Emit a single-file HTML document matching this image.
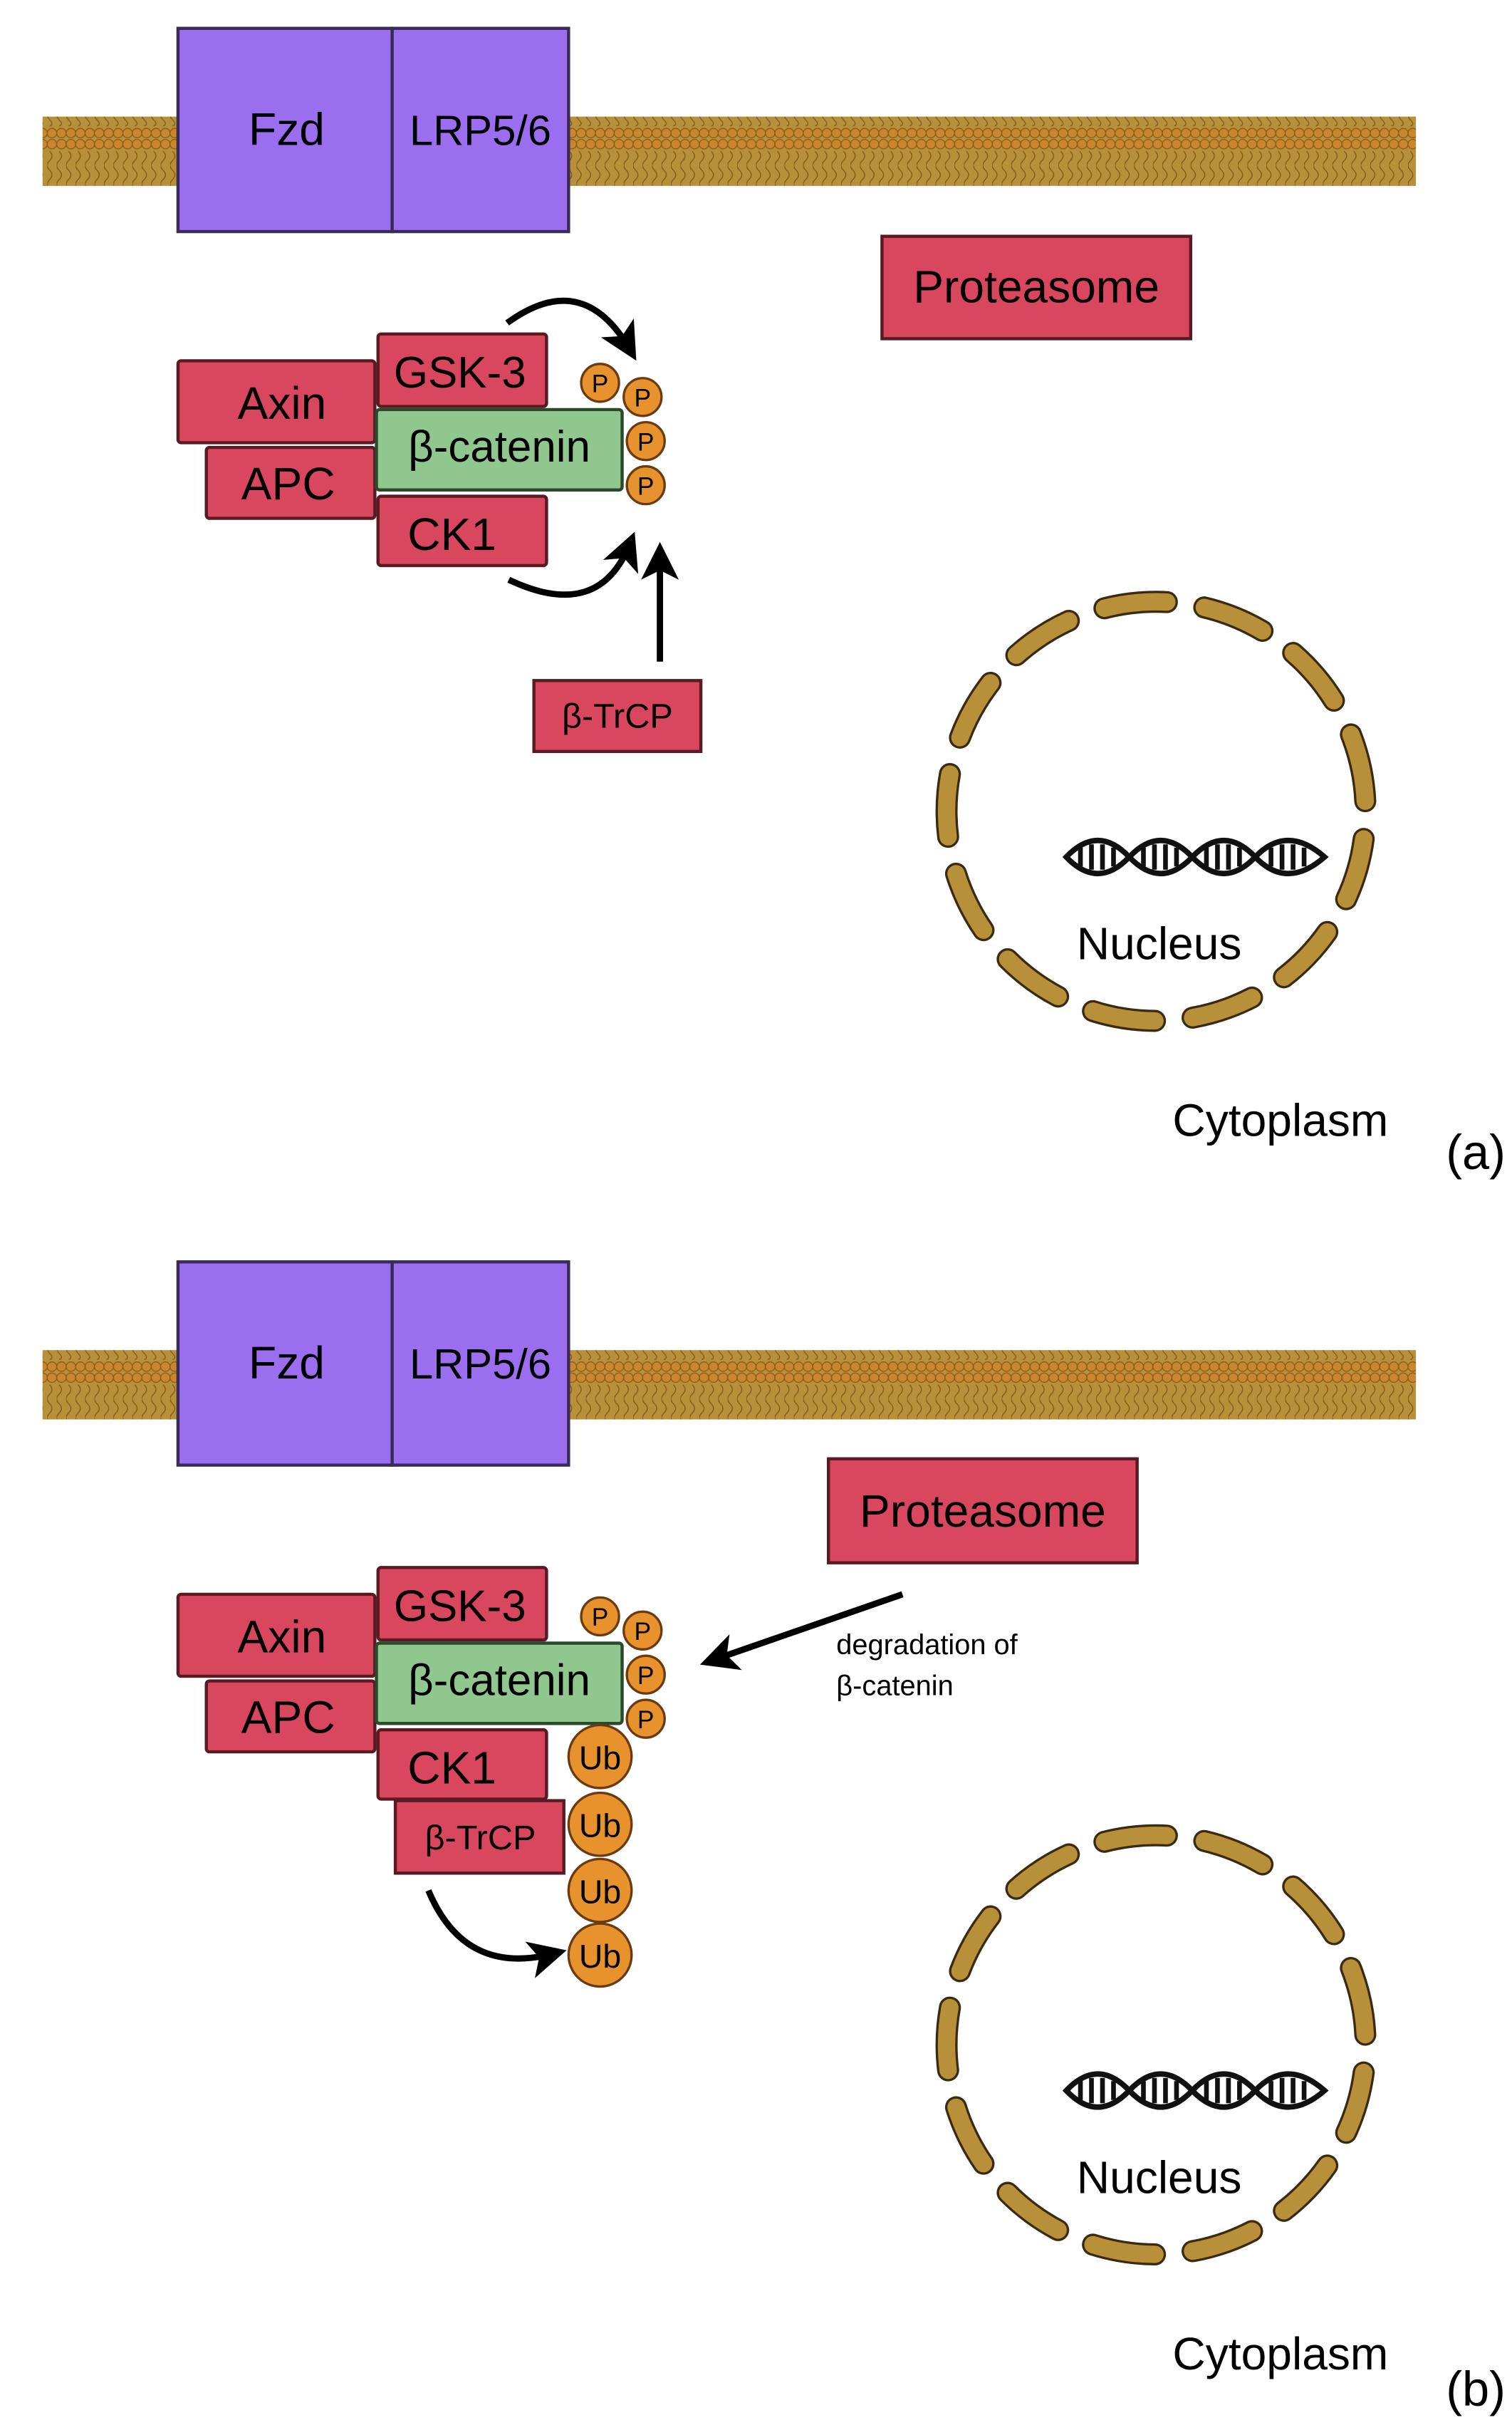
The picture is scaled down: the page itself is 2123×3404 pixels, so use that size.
<!DOCTYPE html>
<html><head><style>
html,body{margin:0;padding:0;background:#fff;}
svg{display:block;}
text{font-family:"Liberation Sans",sans-serif;}
</style></head><body>
<svg width="2123" height="3404" viewBox="0 0 960 1539.3" xmlns="http://www.w3.org/2000/svg">
<defs>
<pattern id="mem" x="0" y="0" width="6" height="44" patternUnits="userSpaceOnUse">
<rect width="6" height="44" fill="#b8903a"/>
<circle cx="3" cy="3.5" r="3" fill="#c8862e" stroke="#8a5a1a" stroke-width="0.6"/>
<circle cx="3" cy="40.5" r="3" fill="#c8862e" stroke="#8a5a1a" stroke-width="0.6"/>
<path d="M1.5 8 q3 3 0 6 q-3 3 0 6 q3 3 0 6 q-3 3 0 6 q3 3 0 4" fill="none" stroke="#7a5a20" stroke-width="0.6"/>
</pattern>
<marker id="ah" markerWidth="6" markerHeight="6" refX="4" refY="3" orient="auto" markerUnits="strokeWidth">
<path d="M0 0 L6 3 L0 6 L1.5 3 Z" fill="#000"/>
</marker>
<g id="dna">
<path d="M0 0 Q20 -21 40 0 Q60 -21 80 0 Q100 -21 120 0 Q140 -21 164 0 Q140 21 120 0 Q100 21 80 0 Q60 21 40 0 Q20 21 0 0Z" fill="none" stroke="#111" stroke-width="3.5"/>
<g stroke="#111" stroke-width="3">
<path d="M9 -6v12M16 -8v16M23 -8v16M30 -6v12M49 -6v12M56 -8v16M63 -8v16M70 -6v12M89 -6v12M96 -8v16M103 -8v16M110 -6v12M130 -6v12M137 -8v16M144 -8v16M151 -6v12"/>
</g>
</g>
<g id="nuc">
<circle cx="0" cy="0" r="133" fill="none" stroke="#3a2a10" stroke-width="14" stroke-dasharray="40 24" stroke-linecap="round" transform="rotate(-20)"/>
<circle cx="0" cy="0" r="133" fill="none" stroke="#b8903a" stroke-width="11" stroke-dasharray="40 24" stroke-linecap="round" transform="rotate(-20)"/>
</g>
<g id="top">
<rect x="27" y="74" width="872" height="44" fill="url(#mem)"/>
<rect x="113" y="18" width="136" height="129" fill="#9b6ef0" stroke="#3a2a5a" stroke-width="2"/>
<rect x="249" y="18" width="112" height="129" fill="#9b6ef0" stroke="#3a2a5a" stroke-width="2"/>
<text x="182" y="92" font-size="29" text-anchor="middle">Fzd</text>
<text x="305" y="92" font-size="27" text-anchor="middle">LRP5/6</text>
<rect x="113" y="229" width="125" height="52" fill="#d9475f" stroke="#5a1a22" stroke-width="2" rx="2"/>
<text x="179" y="266" font-size="29" text-anchor="middle">Axin</text>
<rect x="131" y="284" width="107" height="45" fill="#d9475f" stroke="#5a1a22" stroke-width="2" rx="2"/>
<text x="183" y="317" font-size="29" text-anchor="middle">APC</text>
<rect x="240" y="212" width="107" height="46" fill="#d9475f" stroke="#5a1a22" stroke-width="2" rx="2"/>
<text x="292" y="246" font-size="28" text-anchor="middle">GSK-3</text>
<rect x="239" y="260" width="156" height="51" fill="#8fc78e" stroke="#2a4a2a" stroke-width="2" rx="2"/>
<text x="317" y="293" font-size="28" text-anchor="middle">β-catenin</text>
<rect x="240" y="315" width="107" height="44" fill="#d9475f" stroke="#5a1a22" stroke-width="2" rx="2"/>
<text x="287" y="349" font-size="29" text-anchor="middle">CK1</text>
<g fill="#e8922e" stroke="#6a3a10" stroke-width="1.5">
<circle cx="381" cy="243" r="12"/><circle cx="408" cy="252" r="12"/><circle cx="410" cy="280" r="12"/><circle cx="410" cy="308" r="12"/>
</g>
<g font-size="16" text-anchor="middle"><text x="381" y="249">P</text><text x="408" y="258">P</text><text x="410" y="286">P</text><text x="410" y="314">P</text></g>
</g>
</defs>

<!-- panel a -->
<use href="#top" y="0"/>
<use href="#nuc" x="734" y="515"/>
<rect x="560" y="150" width="196" height="65" fill="#d9475f" stroke="#5a1a22" stroke-width="2"/>
<text x="658" y="192" font-size="29" text-anchor="middle">Proteasome</text>
<path d="M322 205 Q370 170 400 222" fill="none" stroke="#000" stroke-width="4" marker-end="url(#ah)"/>
<path d="M323 368 Q380 395 400 345" fill="none" stroke="#000" stroke-width="4" marker-end="url(#ah)"/>
<path d="M419 420 L419 352" fill="none" stroke="#000" stroke-width="4" marker-end="url(#ah)"/>
<rect x="339" y="432" width="106" height="45" fill="#d9475f" stroke="#5a1a22" stroke-width="2"/>
<text x="392" y="462" font-size="22" text-anchor="middle">β-TrCP</text>
<use href="#dna" x="677" y="544"/>
<text x="736" y="609" font-size="29" text-anchor="middle">Nucleus</text>
<text x="813" y="721" font-size="29" text-anchor="middle">Cytoplasm</text>
<text x="937" y="742" font-size="31" text-anchor="middle" font-family="Liberation Serif,serif">(a)</text>

<!-- panel b -->
<use href="#top" y="783"/>
<use href="#nuc" x="734" y="1298"/>
<rect x="526" y="926" width="196" height="66" fill="#d9475f" stroke="#5a1a22" stroke-width="2"/>
<text x="624" y="969" font-size="29" text-anchor="middle">Proteasome</text>
<path d="M573 1012 L452 1054" fill="none" stroke="#000" stroke-width="4" marker-end="url(#ah)"/>
<text x="531" y="1050" font-size="18">degradation of</text>
<text x="531" y="1076" font-size="18">β-catenin</text>
<rect x="251" y="1143" width="107" height="46" fill="#d9475f" stroke="#5a1a22" stroke-width="2"/>
<text x="305" y="1174" font-size="22" text-anchor="middle">β-TrCP</text>
<g fill="#e8922e" stroke="#6a3a10" stroke-width="1.5">
<circle cx="381" cy="1115" r="20"/><circle cx="381" cy="1158" r="20"/><circle cx="381" cy="1200" r="20"/><circle cx="381" cy="1241" r="20"/>
</g>
<g font-size="21" text-anchor="middle"><text x="381" y="1123">Ub</text><text x="381" y="1166">Ub</text><text x="381" y="1208">Ub</text><text x="381" y="1249">Ub</text></g>
<path d="M272 1200 Q295 1255 352 1240" fill="none" stroke="#000" stroke-width="4" marker-end="url(#ah)"/>
<use href="#dna" x="677" y="1327"/>
<text x="736" y="1392" font-size="29" text-anchor="middle">Nucleus</text>
<text x="813" y="1504" font-size="29" text-anchor="middle">Cytoplasm</text>
<text x="937" y="1527" font-size="31" text-anchor="middle" font-family="Liberation Serif,serif">(b)</text>
</svg>
</body></html>
